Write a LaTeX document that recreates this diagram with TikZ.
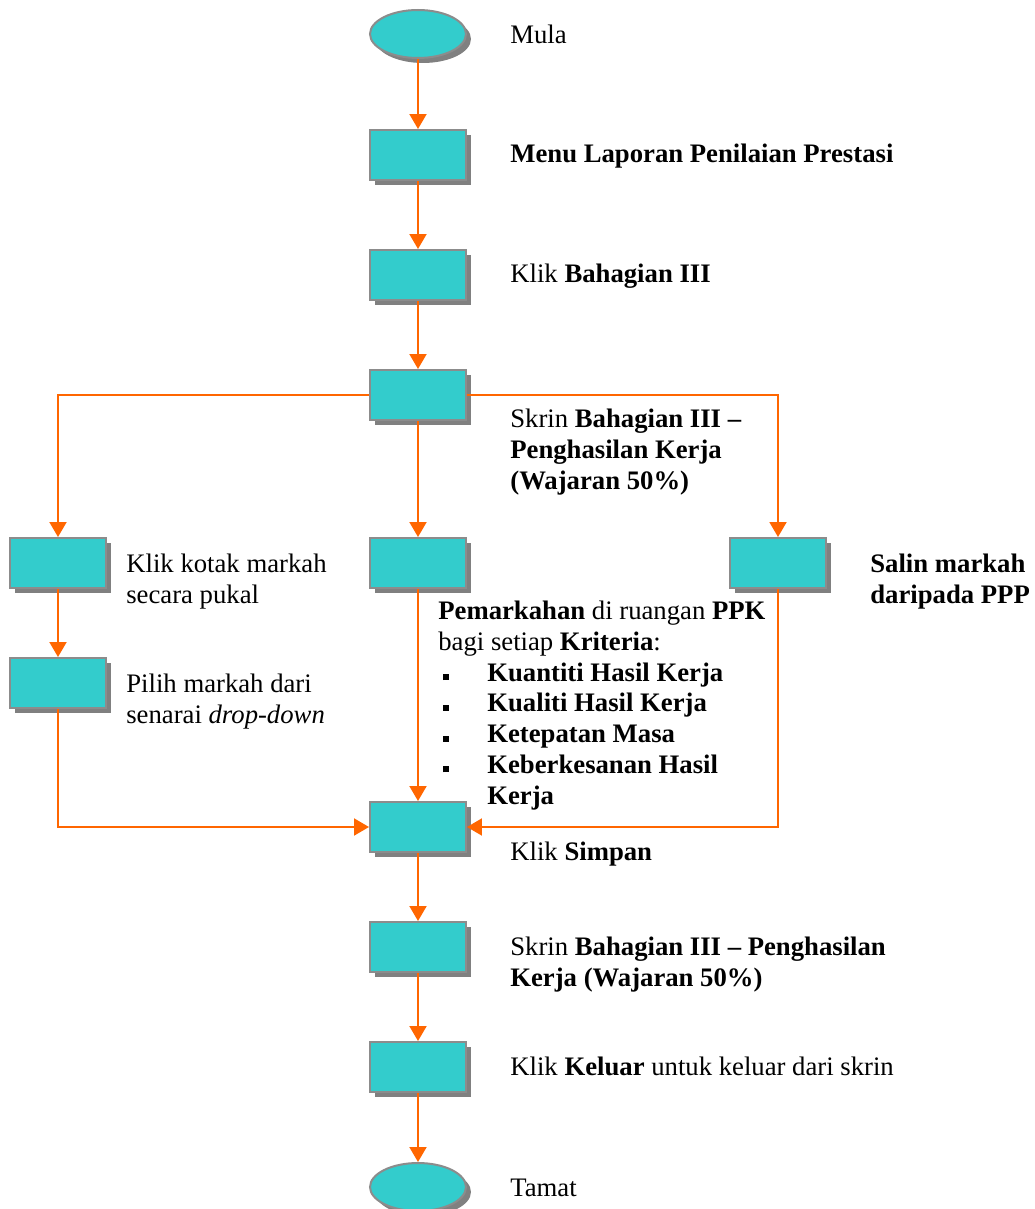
\documentclass[tikz,border=0pt]{standalone}
\usepackage{fontspec}
\setmainfont{Liberation Serif}
\usetikzlibrary{arrows.meta,shapes.geometric,shadows}
\definecolor{boxcyan}{RGB}{51,204,204}
\definecolor{boxedge}{RGB}{140,140,140}
\definecolor{boxshade}{RGB}{128,128,128}
\definecolor{flowora}{RGB}{255,102,0}
\tikzset{
  stepbox/.style={rectangle, draw=boxedge, fill=boxcyan, line width=0.04cm,
    minimum width=1.92cm, minimum height=1.0cm, inner sep=0pt,
    drop shadow={shadow xshift=0.1cm, shadow yshift=-0.1cm, fill=boxshade, opacity=1}},
  termbox/.style={stepbox, ellipse, minimum height=0.96cm},
  flowarr/.style={-{Triangle[length=0.3cm, width=0.34cm]}, flowora, line width=0.04cm},
  % anchored on the baseline of the last line
  lbl/.style={anchor=base west, inner sep=0pt, align=left, font=\fontsize{15.2}{17.5}\selectfont},
}
\newcommand{\sqbul}{\makebox[0.98cm][l]{\hspace*{0.1cm}\rule[0.02cm]{0.12cm}{0.12cm}}}

\begin{document}
\begin{tikzpicture}[x=0.02cm, y=-0.02cm]
  \useasboundingbox (0,0) rectangle (1034,1209);
  % main column, top
  \node[termbox] (mula) at (418,34) {};
  \node[stepbox] (menu) at (418,155) {};
  \node[stepbox] (bah) at (418,275) {};
  \node[stepbox] (skrin) at (418,395) {};
  % three ways of giving marks
  \node[stepbox] (pukal) at (58,563) {};
  \node[stepbox] (ppk) at (418,563) {};
  \node[stepbox] (ppp) at (778,563) {};
  \node[stepbox] (drop) at (58,683) {};
  % main column, bottom
  \node[stepbox] (simpan) at (418,827) {};
  \node[stepbox] (skrin2) at (418,947) {};
  \node[stepbox] (keluar) at (418,1067) {};
  \node[termbox] (tamat) at (418,1187) {};

  % connectors
  \draw[flowarr] (mula) -- (menu);
  \draw[flowarr] (menu) -- (bah);
  \draw[flowarr] (bah) -- (skrin);
  \draw[flowarr] (skrin.west) -| (pukal.north);
  \draw[flowarr] (skrin) -- (ppk);
  \draw[flowarr] (skrin.east) -| (ppp.north);
  \draw[flowarr] (pukal) -- (drop);
  \draw[flowarr] (drop.south) |- (simpan.west);
  \draw[flowarr] (ppk) -- (simpan);
  \draw[flowarr] (ppp.south) |- (simpan.east);
  \draw[flowarr] (simpan) -- (skrin2);
  \draw[flowarr] (skrin2) -- (keluar);
  \draw[flowarr] (keluar) -- (tamat);

  % labels
  \node[lbl] (tmula) at (510,44) {Mula};
  \node[lbl] (tmenu) at (510,163) {\textbf{Menu Laporan Penilaian Prestasi}};
  \node[lbl] (tbah) at (510,283) {Klik \textbf{Bahagian III}};
  \node[lbl] (tskrin) at (510,489) {Skrin \textbf{Bahagian III –}\\\textbf{Penghasilan Kerja}\\\textbf{(Wajaran 50\%)}};
  \node[lbl] (tpukal) at (126,603) {Klik kotak markah\\secara pukal};
  \node[lbl] (tdrop) at (126,723) {Pilih markah dari\\senarai \textit{drop-down}};
  \node[lbl] (tppp) at (870,603) {\textbf{Salin markah}\\\textbf{daripada PPP}};
  \node[lbl] (tppk) at (438,804) {\textbf{Pemarkahan} di ruangan \textbf{PPK}\\bagi setiap \textbf{Kriteria}:\\
    \sqbul\textbf{Kuantiti Hasil Kerja}\\\sqbul\textbf{Kualiti Hasil Kerja}\\\sqbul\textbf{Ketepatan Masa}\\
    \sqbul\textbf{Keberkesanan Hasil}\\\hspace*{0.98cm}\textbf{Kerja}};
  \node[lbl] (tsimpan) at (510,860) {Klik \textbf{Simpan}};
  \node[lbl] (tskrin2) at (510,986) {Skrin \textbf{Bahagian III – Penghasilan}\\\textbf{Kerja (Wajaran 50\%)}};
  \node[lbl] (tkeluar) at (510,1075) {Klik \textbf{Keluar} untuk keluar dari skrin};
  \node[lbl] (ttamat) at (510,1196) {Tamat};
\end{tikzpicture}
\end{document}
